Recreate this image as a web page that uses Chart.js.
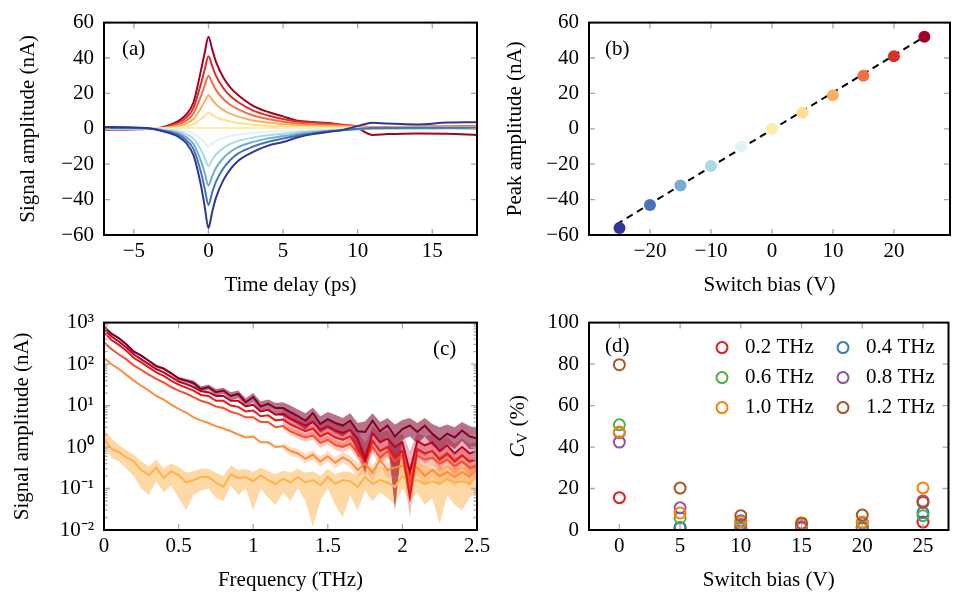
<!DOCTYPE html>
<html lang="en">
<head>
<meta charset="UTF-8">
<title>switch bias sweep</title>
<script src="https://cdn.jsdelivr.net/npm/chart.js@4.4.1/dist/chart.umd.min.js"></script>
<style>
  html, body { margin: 0; padding: 0; background: #fff; overflow: hidden; width: 955px; height: 601px; }
  canvas { position: absolute; }
</style>
</head>
<body>
<canvas id="chartA" width="480" height="300" style="left:0;top:0"></canvas>
<canvas id="chartB" width="476" height="300" style="left:480px;top:0"></canvas>
<canvas id="chartC" width="520" height="301" style="left:0;top:300px"></canvas>
<canvas id="chartD" width="476" height="301" style="left:480px;top:300px"></canvas>
<script>
// ---- (a) time traces, one per switch bias ----
const timeDelay = [-7,-5,-4,-3,-2,-1.5,-1,-0.5,-0.25,0,0.25,0.5,1,1.5,2,3,4,5,6,7,8,9,10,11,12,14,16,18];
const sigM25 = [1,0.8,0.3,-1.5,-4.5,-8,-15,-32,-44,-56,-47,-39,-29,-22.5,-18,-13,-9.5,-7.5,-4.8,-3,-1.8,-0.6,1.5,3.4,3,2.5,3.5,3.7];
const sigM20 = [0.5,0.4,0.2,-1.2,-3.5,-6.2,-11.5,-24.6,-33.8,-43,-36,-30,-22.3,-17.3,-13.9,-10,-7.3,-5.5,-3.8,-2.6,-1.6,-0.8,0,0.4,0.5,0.6,0.6,0.6];
const sigM15 = [0.3,0.2,0.1,-0.9,-2.6,-4.6,-8.6,-18.3,-25,-32,-26.8,-22.2,-16.5,-12.8,-10.3,-7.4,-5.4,-4.1,-2.9,-2,-1.3,-0.7,-0.2,0.2,0.3,0.3,0.4,0.3];
const sigM10 = [0.2,0.1,0,-0.6,-1.7,-3,-5.6,-12,-16.5,-21,-17.6,-14.6,-10.9,-8.4,-6.8,-4.9,-3.6,-2.8,-2,-1.4,-0.9,-0.5,-0.2,0,0.1,0.1,0.2,0.1];
const sigM5 = [0.1,0,0,-0.3,-0.8,-1.4,-2.7,-5.8,-7.9,-10,-8.4,-7,-5.2,-4,-3.2,-2.3,-1.7,-1.3,-1,-0.7,-0.5,-0.3,-0.1,0,0,0,0.1,0];
const sig0 = [0.3,0.3,0.3,0.3,0.3,0.4,0.4,0.4,0.4,0.4,0.4,0.4,0.4,0.4,0.4,0.4,0.4,0.4,0.4,0.4,0.4,0.4,0.4,0.4,0.4,0.4,0.4,0.4];
const sigP5 = [0,0,0,0.2,0.8,1.4,2.6,5.6,7.3,9,7.9,6.6,5.1,4,3.3,2.3,1.7,1.3,1,0.9,0.8,0.7,0.6,0.5,0.5,0.6,0.6,0.6];
const sigP10 = [-0.1,0,0,0.4,1.6,2.9,5.5,11.7,15.5,19,16.5,13.9,10.6,8.4,6.9,4.7,3.5,2.6,2,1.7,1.5,1.3,1,0.8,0.8,0.9,0.9,1];
const sigP15 = [-0.2,-0.1,0,0.6,2.6,4.6,8.7,18.5,24.5,30,26,22,16.8,13.3,11,7.5,5.5,4,3,2.6,2.2,1.8,1.3,1,1,1.1,1.2,1.3];
const sigP20 = [-0.3,-0.2,0,0.8,3.5,6.3,11.8,25.5,33.5,41,35.5,30,22.9,18.2,15,10.3,7.5,5.5,4,3.5,3,2.3,1.5,1,1,1.2,1.3,1.5];
const sigP25 = [-0.5,-0.3,0,1,4.5,8,15,33,43,52,45,38,29,23,19,13,9.5,7,4.5,3.8,3.3,2,0.3,-3.5,-3,-2.6,-2.8,-3.5];

// ---- (b) peak amplitude vs bias ----
const biasV = [-25,-20,-15,-10,-5,0,5,10,15,20,25];
const peakNA = [-56,-43,-32,-21,-10,0,9,19,30,41,52];
const fitX = [-25.5,25];
const fitY = [-54,52];
const biasColors = ['#313695','#4575b4','#74add1','#abd9e9','#e0f3f8','#feeda6','#fee090','#fdae61','#f46d43','#d73027','#a50026'];

// ---- (c) spectra (nA), bias 25 V down to 0 V ----
const freqTHz = [0,0.05,0.1,0.15,0.2,0.25,0.3,0.35,0.4,0.45,0.5,0.55,0.6,0.65,0.7,0.75,0.8,0.85,0.9,0.95,1,1.05,1.1,1.15,1.2,1.25,1.3,1.35,1.4,1.45,1.5,1.55,1.6,1.65,1.7,1.75,1.8,1.85,1.9,1.95,2,2.05,2.1,2.15,2.2,2.25,2.3,2.35,2.4,2.45,2.5];
const spec25 = [800,540,420,300,200,160,120,89,78,60,45,40,35,25,28,21,23,17,19,12,16,9.5,11,8.7,8.7,6.9,5.6,4.3,6.6,3.6,4.7,3.8,3.3,4.3,2.4,2.3,4.3,2.4,3.3,1.8,2.7,3.3,2.3,3.3,2.1,1.5,2.1,1.7,2.5,1.8,1.6];
const spec25Hi = [860,580,450,320,215,170,128,96,84,65,49,44,40,29,32,25,27,21,23,15,20,12.5,14,11.5,12,10,8,6.5,9,5.5,7,6,5,6.5,3.8,4.2,6.5,4,5,3.5,4.5,5,3.8,5,3.6,3,3.5,3,4,3.2,2.8];
const spec25Lo = [750,500,390,280,186,150,112,83,72,55,41,36,31,21,24,17,19,13.5,15,9.5,12,7,8,6,5.5,4.5,3.5,2.6,4,2.2,2.8,2.2,1.8,2.5,0.6,0.5,2.5,1.2,1.8,0.03,1.5,1.8,1.2,1.8,1.1,0.8,1.2,0.9,1.4,0.9,0.9];
const spec20 = [690,460,350,250,170,130,100,76,63,49,38,33,28,22,21,17,17,13,13,9.5,10.5,7.2,7.9,6.0,6.3,4.8,4.0,3.3,4.0,2.6,3.2,2.5,2.2,2.6,1.6,0.5,2.2,1.3,1.6,1.0,1.3,0.25,1.4,1.1,1.3,0.8,1.1,0.7,1.0,0.7,0.8];
const spec15 = [580,380,290,210,140,110,83,63,52,40,32,27,23,18,17,13,13,10,9.3,7.2,7.6,5.5,5.8,4.4,4.6,3.5,2.9,2.4,2.8,1.8,2.2,1.7,1.5,1.8,1.0,0.45,1.4,0.8,1.0,0.56,0.8,0.063,0.9,0.7,0.8,0.5,0.7,0.45,0.63,0.45,0.5];
const spec10 = [330,230,170,130,93,72,56,44,36,28,23,19.5,16,13,11.5,9.5,8.7,7.1,6.3,5.2,5.2,4.0,4.0,3.0,3.2,2.4,2.0,1.7,1.9,1.26,1.5,1.12,1.0,1.2,0.71,0.45,1.0,0.56,0.8,0.45,0.63,0.13,0.63,0.5,0.56,0.4,0.5,0.35,0.45,0.32,0.35];
const spec5 = [140,100,76,55,40,30,23,17,14,10.5,8.3,6.8,5.2,4.4,3.8,3.2,2.8,2.4,2.0,1.7,1.8,1.3,1.3,1.0,1.05,0.8,0.7,0.52,0.66,0.45,0.6,0.42,0.56,0.45,0.28,0.4,0.24,0.5,0.28,0.32,0.35,0.25,0.32,0.2,0.28,0.2,0.25,0.19,0.25,0.19,0.32];
const spec0 = [1.6,0.9,0.76,0.56,0.45,0.28,0.21,0.32,0.18,0.26,0.21,0.14,0.16,0.19,0.19,0.14,0.11,0.22,0.18,0.19,0.15,0.21,0.16,0.13,0.17,0.14,0.19,0.14,0.16,0.12,0.19,0.13,0.16,0.15,0.11,0.19,0.13,0.16,0.14,0.11,0.2,0.14,0.16,0.13,0.15,0.13,0.17,0.14,0.15,0.13,0.2];
const spec0Hi = [2.8,1.6,1.1,0.85,0.65,0.45,0.34,0.5,0.3,0.4,0.34,0.24,0.26,0.3,0.3,0.24,0.2,0.36,0.28,0.3,0.25,0.32,0.26,0.22,0.27,0.24,0.3,0.24,0.26,0.2,0.3,0.22,0.26,0.25,0.2,0.4,0.3,0.35,0.3,0.28,0.45,0.4,0.42,0.35,0.3,0.3,0.35,0.3,0.32,0.3,0.4];
const spec0Lo = [1.1,0.55,0.45,0.3,0.2,0.1,0.07,0.15,0.08,0.12,0.06,0.03,0.07,0.09,0.1,0.06,0.05,0.12,0.07,0.1,0.03,0.1,0.06,0.04,0.08,0.05,0.1,0.05,0.012,0.05,0.1,0.04,0.02,0.07,0.03,0.09,0.05,0.08,0.06,0.04,0.1,0.05,0.08,0.04,0.06,0.014,0.07,0.04,0.03,0.06,0.08];
// high-frequency spread (from 1.2 THz) for the middle biases
const freqHi = freqTHz.slice(24);
const spec20Hi = [8,6.3,5.5,4.6,5.5,3.8,4.5,3.6,3.2,3.8,2.5,1.2,3.2,2.2,2.5,1.7,2.1,0.8,2.2,1.8,2,1.4,1.8,1.2,1.6,1.2,1.3];
const spec20Lo = [4.8,3.6,2.9,2.3,2.9,1.8,2.2,1.7,1.4,1.8,1.0,0.2,1.4,0.8,1.0,0.5,0.8,0.05,0.8,0.6,0.8,0.45,0.6,0.4,0.6,0.4,0.5];
const spec15Hi = [5.6,4.4,3.7,3.1,3.6,2.4,2.9,2.3,2.1,2.5,1.5,0.8,2.0,1.2,1.5,0.9,1.2,0.2,1.3,1.1,1.2,0.8,1.0,0.7,0.9,0.7,0.75];
const spec15Lo = [3.7,2.7,2.2,1.8,2.1,1.3,1.6,1.2,1.0,1.2,0.6,0.25,0.9,0.5,0.6,0.3,0.5,0.02,0.6,0.4,0.5,0.3,0.45,0.28,0.4,0.28,0.32];
const spec10Hi = [3.8,2.9,2.5,2.1,2.4,1.6,1.9,1.45,1.3,1.6,1.0,0.7,1.4,0.8,1.1,0.7,0.9,0.3,0.9,0.75,0.8,0.6,0.75,0.55,0.65,0.5,0.55];
const spec10Lo = [2.6,1.9,1.6,1.3,1.5,0.95,1.15,0.85,0.75,0.9,0.5,0.28,0.7,0.38,0.55,0.28,0.42,0.07,0.42,0.32,0.38,0.26,0.33,0.22,0.3,0.2,0.22];
const spec5Hi = [1.3,1.0,0.9,0.7,0.85,0.6,0.8,0.58,0.75,0.62,0.42,0.55,0.36,0.68,0.42,0.48,0.52,0.4,0.48,0.32,0.42,0.32,0.38,0.3,0.38,0.3,0.45];
const spec5Lo = [0.85,0.62,0.55,0.4,0.5,0.33,0.45,0.3,0.42,0.32,0.18,0.28,0.15,0.36,0.18,0.2,0.23,0.15,0.2,0.12,0.18,0.12,0.16,0.11,0.16,0.11,0.2];

// ---- (d) coefficient of variation ----
const cvBias = [0,5,10,15,20,25];
const cv02 = [15.6,1.1,0.8,1,0.8,3.8];
const cv04 = [46.9,1.1,4.5,1.5,1.5,8.4];
const cv06 = [50.7,5.8,1,1.5,1.5,6.9];
const cv08 = [42.4,10.7,2.7,1.5,3.4,14];
const cv10 = [47.3,8.2,3.8,2.7,3.8,20.3];
const cv12 = [79.7,20.2,6.9,3.4,7.2,13.3];
const cvLabels = ['0.2 THz','0.4 THz','0.6 THz','0.8 THz','1.0 THz','1.2 THz'];
const cvColors = ['#e41a1c','#377eb8','#4daf4a','#984ea3','#ff7f00','#a65628'];

// tick labels
const ticksTime = [-5,0,5,10,15];
const ticksAmp = [-60,-40,-20,0,20,40,60];
const ticksBias = [-20,-10,0,10,20];
const ticksFreq = [0,0.5,1,1.5,2,2.5];
const ticksLog = [0.01,0.1,1,10,100,1000];
const ticksCvBias = [0,5,10,15,20,25];
const ticksCv = [0,20,40,60,80,100];

const FONT = "'Liberation Serif', 'Times New Roman', serif";
const FS = 21;
Chart.defaults.font.family = FONT;
Chart.defaults.font.size = FS;
Chart.defaults.color = '#000';
Chart.defaults.animation = false;
Chart.defaults.plugins.legend.display = false;
Chart.defaults.plugins.tooltip.enabled = false;

const minus = v => String(v).replace('-', '\u2212');
const supMap = {'-': '\u207B', '0': '\u2070', '1': '\u00B9', '2': '\u00B2', '3': '\u00B3'};
const powLabel = v => '10' + String(Math.round(Math.log10(v))).split('').map(c => supMap[c]).join('');

function axis(o) {
  return {
    type: o.type || 'linear',
    min: o.min, max: o.max,
    grid: { display: false, drawTicks: false },
    border: { display: false },
    afterBuildTicks: s => { s.ticks = o.ticks.map(v => ({ value: v })); },
    afterFit: s => { if (o.width) s.width = o.width; if (o.height) s.height = o.height; },
    ticks: { padding: o.pad, autoSkip: false, maxRotation: 0, callback: o.fmt || minus },
    title: o.title ? { display: true, text: o.title, padding: o.titlePad } : { display: false }
  };
}

// box around the plot, inward ticks on all sides, panel letter
const framePlugin = {
  id: 'frame',
  afterDatasetsDraw(chart, args, o) {
    const { ctx, chartArea: a } = chart;
    const xs = chart.scales.x, ys = chart.scales.y;
    ctx.save();
    ctx.strokeStyle = '#a8a8a8';
    ctx.lineWidth = 1.3;
    ctx.beginPath();
    xs.ticks.forEach(t => {
      const p = xs.getPixelForValue(t.value);
      ctx.moveTo(p, a.top); ctx.lineTo(p, a.top + 6);
      ctx.moveTo(p, a.bottom); ctx.lineTo(p, a.bottom - 6);
    });
    ys.ticks.forEach(t => {
      const p = ys.getPixelForValue(t.value);
      ctx.moveTo(a.left, p); ctx.lineTo(a.left + 6, p);
      ctx.moveTo(a.right, p); ctx.lineTo(a.right - 6, p);
    });
    (o.minorY || []).forEach(v => {
      const p = ys.getPixelForValue(v);
      ctx.moveTo(a.left, p); ctx.lineTo(a.left + 3.5, p);
      ctx.moveTo(a.right, p); ctx.lineTo(a.right - 3.5, p);
    });
    ctx.stroke();
    ctx.strokeStyle = '#000';
    ctx.lineWidth = 2;
    ctx.strokeRect(a.left, a.top, a.right - a.left, a.bottom - a.top);
    ctx.fillStyle = '#000';
    ctx.font = FS + 'px ' + FONT;
    ctx.textBaseline = 'middle';
    if (o.label) ctx.fillText(o.label, a.left + o.lx, a.top + o.ly);
    if (o.legend) {
      chart.data.datasets.forEach((d, i) => {
        const cx = a.left + o.legend.x0 + (i % 2) * o.legend.dx;
        const cy = a.top + o.legend.y0 + Math.floor(i / 2) * o.legend.dy;
        ctx.beginPath();
        ctx.arc(cx, cy, 5.5, 0, Math.PI * 2);
        ctx.strokeStyle = d.borderColor;
        ctx.lineWidth = 2;
        ctx.stroke();
        ctx.fillText(d.label, cx + 23, cy);
      });
    }
    if (o.cvTitle) {
      // C_V (%) rotated y title
      ctx.translate(o.cvTitle.x, (a.top + a.bottom) / 2);
      ctx.rotate(-Math.PI / 2);
      ctx.font = 'italic ' + FS + 'px ' + FONT;
      const wC = ctx.measureText('C').width;
      ctx.font = '15px ' + FONT;
      const wV = ctx.measureText('V').width;
      ctx.font = FS + 'px ' + FONT;
      const wP = ctx.measureText(' (%)').width;
      const x0 = -(wC + wV + 1 + wP) / 2;
      ctx.font = 'italic ' + FS + 'px ' + FONT;
      ctx.fillText('C', x0, 0);
      ctx.font = '15px ' + FONT;
      ctx.fillText('V', x0 + wC, 5);
      ctx.font = FS + 'px ' + FONT;
      ctx.fillText(' (%)', x0 + wC + wV + 1, 0);
    }
    ctx.restore();
  }
};

// (a)
const tracesA = [sigM25, sigM20, sigM15, sigM10, sigM5, sig0, sigP5, sigP10, sigP15, sigP20, sigP25];
new Chart(document.getElementById('chartA'), {
  type: 'line',
  data: {
    datasets: tracesA.map((tr, i) => ({
      label: biasV[i] + ' V',
      data: timeDelay.map((t, k) => ({ x: t, y: tr[k] })),
      borderColor: biasColors[i],
      borderWidth: 2,
      pointRadius: 0,
      cubicInterpolationMode: 'monotone'
    }))
  },
  options: {
    responsive: false,
    layout: { padding: { top: 14, right: 3, left: 0, bottom: 0 } },
    scales: {
      x: axis({ min: -7, max: 18, ticks: ticksTime, height: 65, pad: 4, title: 'Time delay (ps)', titlePad: { bottom: 1.5 } }),
      y: axis({ min: -60, max: 60, ticks: ticksAmp, width: 104, pad: 10, title: 'Signal amplitude (nA)', titlePad: { top: 15.5 } })
    },
    plugins: { frame: { label: '(a)', lx: 18, ly: 27 } }
  },
  plugins: [framePlugin]
});

// (b)
new Chart(document.getElementById('chartB'), {
  type: 'scatter',
  data: {
    datasets: [{
      label: 'peak',
      data: biasV.map((v, i) => ({ x: v, y: peakNA[i] })),
      pointRadius: 6,
      pointBorderWidth: 0,
      pointBackgroundColor: biasColors,
      pointBorderColor: biasColors
    }, {
      label: 'fit',
      data: fitX.map((v, i) => ({ x: v, y: fitY[i] })),
      showLine: true,
      borderColor: '#000',
      borderWidth: 2,
      borderDash: [7, 5],
      pointRadius: 0
    }]
  },
  options: {
    responsive: false,
    layout: { padding: { top: 14, right: 0, left: 0, bottom: 0 } },
    scales: {
      x: axis({ min: -30, max: 29.2, ticks: ticksBias, height: 65, pad: 4, title: 'Switch bias (V)', titlePad: { bottom: 1.5 } }),
      y: axis({ min: -60, max: 60, ticks: ticksAmp, width: 109, pad: 10, title: 'Peak amplitude (nA)', titlePad: { top: 22.5 } })
    },
    plugins: { frame: { label: '(b)', lx: 16, ly: 27 } }
  },
  plugins: [framePlugin]
});

// (c)
const minorLog = [];
for (let e = -2; e < 3; e++) for (let m = 2; m < 10; m++) minorLog.push(m * Math.pow(10, e));
const specLines = [spec25, spec20, spec15, spec10, spec5, spec0];
const specColors = ['#800026', '#bd0026', '#e31a1c', '#fc4e2a', '#fd8d3c', '#feb24c'];
const bands = [
  [freqTHz, spec25Hi, spec25Lo, 'rgba(128,0,38,0.55)'],
  [freqHi, spec20Hi, spec20Lo, 'rgba(189,0,38,0.3)'],
  [freqHi, spec15Hi, spec15Lo, 'rgba(227,26,28,0.3)'],
  [freqHi, spec10Hi, spec10Lo, 'rgba(252,78,42,0.3)'],
  [freqHi, spec5Hi, spec5Lo, 'rgba(253,141,60,0.3)'],
  [freqTHz, spec0Hi, spec0Lo, 'rgba(254,178,76,0.5)']
];
const dsC = specLines.map((s, i) => ({
  label: 'line' + i,
  data: freqTHz.map((f, k) => ({ x: f, y: s[k] })),
  borderColor: specColors[i],
  borderWidth: 2,
  pointRadius: 0,
  tension: 0,
  fill: false
}));
bands.forEach(([fx, hi, lo, col], i) => {
  dsC.push({
    label: 'hi' + i, data: fx.map((f, k) => ({ x: f, y: hi[k] })),
    borderWidth: 0, pointRadius: 0, tension: 0, backgroundColor: col, fill: '+1'
  });
  dsC.push({
    label: 'lo' + i, data: fx.map((f, k) => ({ x: f, y: lo[k] })),
    borderWidth: 0, pointRadius: 0, tension: 0, fill: false
  });
});
new Chart(document.getElementById('chartC'), {
  type: 'line',
  data: { datasets: dsC },
  options: {
    responsive: false,
    layout: { padding: { top: 11, right: 43, left: 0, bottom: 0 } },
    scales: {
      x: axis({ min: 0, max: 2.5, ticks: ticksFreq, height: 71, pad: 4, fmt: v => String(v), title: 'Frequency (THz)', titlePad: { bottom: 7.5 } }),
      y: axis({ type: 'logarithmic', min: 0.01, max: 1000, ticks: ticksLog, width: 104, pad: 10, fmt: powLabel, title: 'Signal amplitude (nA)', titlePad: { top: 10 } })
    },
    plugins: {
      filler: { drawTime: 'beforeDatasetsDraw' },
      frame: { label: '(c)', lx: 329, ly: 27, minorY: minorLog }
    }
  },
  plugins: [framePlugin]
});

// (d)
const cvSeries = [cv02, cv04, cv06, cv08, cv10, cv12];
new Chart(document.getElementById('chartD'), {
  type: 'scatter',
  data: {
    datasets: cvSeries.map((s, i) => ({
      label: cvLabels[i],
      data: cvBias.map((b, k) => ({ x: b, y: s[k] })),
      borderColor: cvColors[i],
      backgroundColor: 'rgba(0,0,0,0)',
      pointRadius: 5.5,
      pointBorderWidth: 2,
      order: 6 - i
    }))
  },
  options: {
    responsive: false,
    layout: { padding: { top: 11, right: 0, left: 0, bottom: 0 } },
    scales: {
      x: axis({ min: -2.5, max: 27.1, ticks: ticksCvBias, height: 71, pad: 4, title: 'Switch bias (V)', titlePad: { bottom: 7.5 } }),
      y: axis({ min: 0, max: 100, ticks: ticksCv, width: 109, pad: 10 })
    },
    plugins: {
      frame: { label: '(d)', lx: 16, ly: 24, legend: { x0: 133, y0: 25, dx: 121, dy: 30 }, cvTitle: { x: 38 } }
    }
  },
  plugins: [framePlugin]
});
</script>
</body>
</html>
